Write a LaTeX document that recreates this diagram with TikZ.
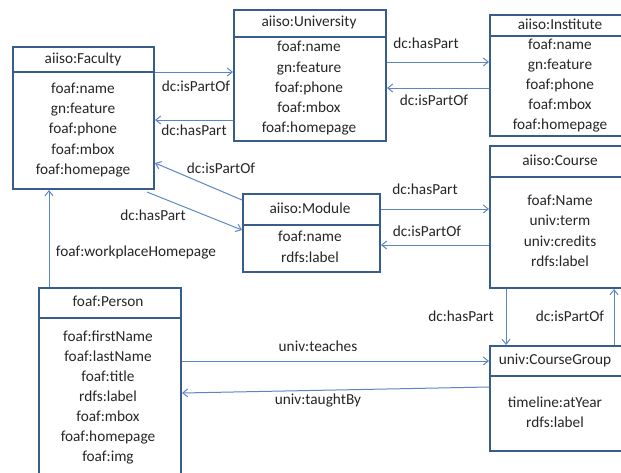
\documentclass[tikz,border=0pt]{standalone}
\usepackage{fontspec}
\setmainfont{Carlito}
\usetikzlibrary{arrows.meta}
\definecolor{boxc}{HTML}{385D8A}
\definecolor{linec}{HTML}{5B86C5}
\definecolor{txt}{HTML}{262626}
\tikzset{
  box/.style={draw=boxc, line width=2pt, anchor=north west, inner sep=0pt},
  hdr/.style={draw=boxc, line width=2pt},
  t/.style={font=\fontsize{15.3}{16}\selectfont, text=txt, inner sep=0pt, text height=10.5pt, text depth=3.5pt},
  lbl/.style={font=\fontsize{15.3}{16}\selectfont, text=txt, inner sep=0pt, text height=10.5pt, text depth=3.5pt},
  conn/.style={draw=linec, line width=1pt, -{Straight Barb[length=5pt,width=8pt]}},
}
\begin{document}
\begin{tikzpicture}[x=1pt,y=-1pt]
\useasboundingbox (0,0) rectangle (621,472);
\clip (0,0) rectangle (621,472);
% boxes
\node[box, minimum width=141pt, minimum height=142pt] (fac) at (12,46) {};
\draw[hdr] (12,72) -- (153,72);
\node[box, minimum width=152pt, minimum height=131pt] (uni) at (233,9) {};
\draw[hdr] (233,37) -- (385,37);
\node[box, minimum width=140pt, minimum height=121pt] (ins) at (489,14) {};
\draw[hdr] (489,36) -- (629,36);
\node[box, minimum width=140pt, minimum height=142pt] (crs) at (489,145) {};
\draw[hdr] (489,177) -- (629,177);
\node[box, minimum width=137pt, minimum height=78pt] (mod) at (242,193) {};
\draw[hdr] (242,225) -- (379,225);
\node[box, minimum width=142pt, minimum height=200pt] (per) at (38,287) {};
\draw[hdr] (38,318) -- (180,318);
\node[box, minimum width=140pt, minimum height=105pt] (cg) at (489,345) {};
\draw[hdr] (489,376) -- (629,376);
% texts
\node[t] (facH) at (83,60) {aiiso:Faculty};
\node[t] (fac1) at (83,90) {foaf:name};
\node[t] (fac2) at (83,110) {gn:feature};
\node[t] (fac3) at (83,130) {foaf:phone};
\node[t] (fac4) at (83,151) {foaf:mbox};
\node[t] (fac5) at (83,171) {foaf:homepage};
\node[t] (uniH) at (309,23) {aiiso:University};
\node[t] (uni1) at (309,48) {foaf:name};
\node[t] (uni2) at (309,69) {gn:feature};
\node[t] (uni3) at (309,89) {foaf:phone};
\node[t] (uni4) at (309,109) {foaf:mbox};
\node[t] (uni5) at (309,129) {foaf:homepage};
\node[t] (insH) at (560,26) {aiiso:Institute};
\node[t] (ins1) at (560,46) {foaf:name};
\node[t] (ins2) at (560,66) {gn:feature};
\node[t] (ins3) at (560,86) {foaf:phone};
\node[t] (ins4) at (560,106) {foaf:mbox};
\node[t] (ins5) at (560,126) {foaf:homepage};
\node[t] (crsH) at (560,162) {aiiso:Course};
\node[t] (crs1) at (560,202) {foaf:Name};
\node[t] (crs2) at (560,222) {univ:term};
\node[t] (crs3) at (560,243) {univ:credits};
\node[t] (crs4) at (560,263) {rdfs:label};
\node[t] (modH) at (310,210) {aiiso:Module};
\node[t] (mod1) at (310,238) {foaf:name};
\node[t] (mod2) at (310,259) {rdfs:label};
\node[t] (perH) at (108,303) {foaf:Person};
\node[t] (per1) at (108,338) {foaf:firstName};
\node[t] (per2) at (108,358) {foaf:lastName};
\node[t] (per3) at (108,378) {foaf:title};
\node[t] (per4) at (108,398) {rdfs:label};
\node[t] (per5) at (108,418) {foaf:mbox};
\node[t] (per6) at (108,438) {foaf:homepage};
\node[t] (per7) at (108,458) {foaf:img};
\node[t] (cgH) at (555,361) {univ:CourseGroup};
\node[t] (cg1) at (555,404) {timeline:atYear};
\node[t] (cg2) at (555,424) {rdfs:label};
% connectors
\draw[conn] (fac.east |- 0,72) -- (uni.west |- 0,72);
\node[lbl] at (196,88) {dc:isPartOf};
\draw[conn] (uni.west |- 0,120) -- (fac.east |- 0,120);
\node[lbl] at (194,132) {dc:hasPart};
\draw[conn] (uni.east |- 0,62) -- (ins.west |- 0,62);
\node[lbl] at (426,45) {dc:hasPart};
\draw[conn] (ins.west |- 0,88) -- (uni.east |- 0,88);
\node[lbl] at (434,102) {dc:isPartOf};
\draw[conn] (mod.north west) ++(0,7) coordinate (m1) (m1) -- (fac.east |- 0,163);
\node[lbl] at (221,170) {dc:isPartOf};
\draw[conn] (fac.south east) ++(-8,2) coordinate (f1) (f1) -- (mod.west |- 0,230);
\node[lbl] at (153,217) {dc:hasPart};
\draw[conn] (mod.east |- 0,209) -- (crs.west |- 0,209);
\node[lbl] at (425,191) {dc:hasPart};
\draw[conn] (crs.west |- 0,245) -- (mod.east |- 0,245);
\node[lbl] at (427,233) {dc:isPartOf};
\draw[conn] (per.north west) ++(11,0) coordinate (p1) (p1) -- (p1 |- fac.south);
\node[lbl] at (136,253) {foaf:workplaceHomepage};
\draw[conn] (506,0 |- crs.south) -- (506,0 |- cg.north);
\node[lbl] at (461,318) {dc:hasPart};
\draw[conn] (614,0 |- cg.north) -- (614,0 |- crs.south);
\node[lbl] at (570,318) {dc:isPartOf};
\draw[conn] (per.east |- 0,361) -- (cg.west |- 0,361);
\node[lbl] at (318,348) {univ:teaches};
\draw[conn] (cg.west |- 0,387) -- (per.east |- 0,393);
\node[lbl] at (318,401) {univ:taughtBy};
\end{tikzpicture}
\end{document}
